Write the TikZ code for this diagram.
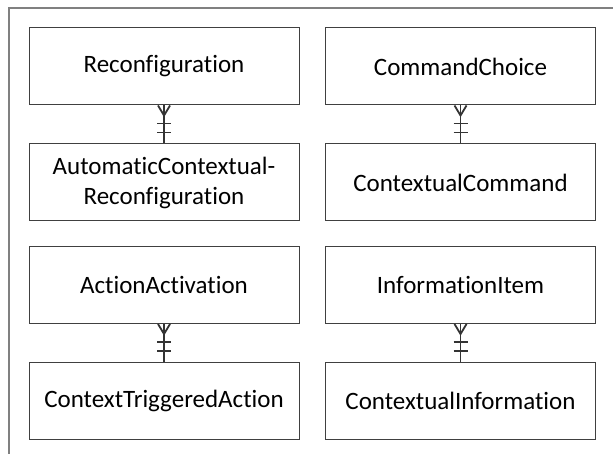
\documentclass[tikz,border=0pt]{standalone}
\usepackage{fontspec}
\setmainfont{Carlito}[Ligatures=NoCommon]
\begin{document}
\begin{tikzpicture}[x=1pt,y=-1pt,
  entity/.style={draw=black!75, line width=1pt, fill=white, minimum width=270pt,
    minimum height=77pt, inner sep=0pt, align=center, font=\fontsize{25}{30}\selectfont},
  rel/.style={draw=black!80, line width=1.8pt},
  frameline/.style={draw=black!50, line width=1.5pt}]
\useasboundingbox (0,0) rectangle (613,454);
% outer frame
\coordinate (fa) at (9,454);
\coordinate (fb) at (9,8);
\coordinate (fc) at (613,8);
\draw[frameline] (fa) -- (fb) -- (fc);
% entities
\node[entity] (recon) at (164,66.5) {Reconfiguration};
\node[entity] (autorecon) at (164,182.5) {AutomaticContextual-\\Reconfiguration};
\node[entity] (cmdchoice) at (460.5,66.5) {CommandChoice};
\node[entity] (ctxcmd) at (460.5,182.5) {ContextualCommand};
\node[entity] (actact) at (164,285) {ActionActivation};
\node[entity] (ctxtrig) at (164,400.5) {ContextTriggeredAction};
\node[entity] (infoitem) at (460.5,285) {InformationItem};
\node[entity] (ctxinfo) at (460.5,400.5) {ContextualInformation};
% relationships: crow's foot at the upper entity, double bar toward the lower
\foreach \a/\b in {recon/autorecon, cmdchoice/ctxcmd, actact/ctxtrig, infoitem/ctxinfo}{
  \draw[rel] (\a.south) -- (\b.north);
  \draw[rel] ([xshift=-6pt]\a.south) -- ([yshift=-10pt]\a.south) -- ([xshift=6pt]\a.south);
  \draw[rel] ([xshift=-7pt,yshift=-18pt]\a.south) -- ([xshift=7pt,yshift=-18pt]\a.south);
  \draw[rel] ([xshift=-7pt,yshift=-27pt]\a.south) -- ([xshift=7pt,yshift=-27pt]\a.south);
}
\end{tikzpicture}
\end{document}
